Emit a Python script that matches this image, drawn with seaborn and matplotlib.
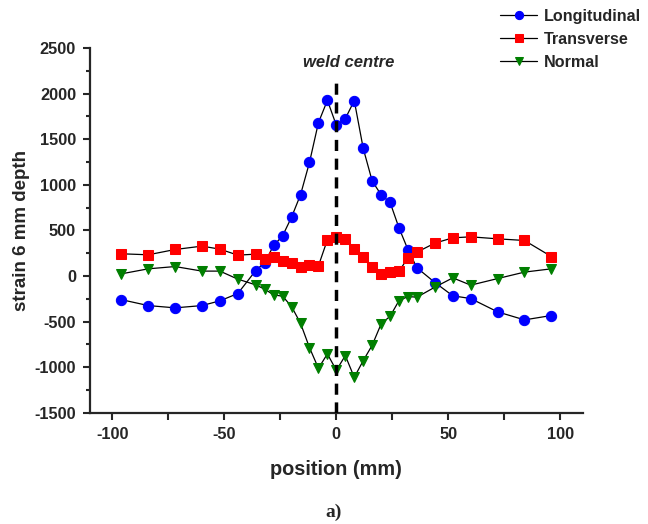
import matplotlib
matplotlib.use("Agg")
import matplotlib.pyplot as plt
import seaborn as sns
import pandas as pd
from matplotlib.ticker import MultipleLocator, FixedLocator

position = [-96, -84, -72, -60, -52, -44, -36, -32, -28, -24, -20, -16, -12, -8, -4,
            0, 4, 8, 12, 16, 20, 24, 28, 32, 36, 44, 52, 60, 72, 84, 96]
longitudinal = [-260, -325, -350, -325, -273, -193, 59, 147, 334, 440, 645, 890, 1245, 1681, 1926,
                1652, 1725, 1923, 1399, 1041, 890, 806, 525, 287, 89, -72, -218, -248, -394, -482, -434]
transverse = [243, 232, 290, 327, 294, 228, 239, 184, 210, 166, 140, 100, 122, 111, 396,
              422, 407, 294, 210, 103, 26, 42, 53, 199, 261, 360, 418, 429, 407, 389, 213]
normal = [23, 78, 103, 53, 53, -35, -98, -145, -208, -222, -336, -519, -786, -1013, -855,
          -1035, -874, -1112, -929, -760, -526, -442, -270, -226, -233, -123, -21, -101, -29, 42, 78]

series_names = ["Longitudinal", "Transverse", "Normal"]
series_colors = ["#0000ff", "#ff0000", "#007f00"]
series_markers = ["o", "s", "v"]
series_msizes = [7.4, 6.6, 7.4]

df = pd.DataFrame({"position": position, "Longitudinal": longitudinal,
                   "Transverse": transverse, "Normal": normal})

sns.set_style("ticks")
plt.rcParams["font.family"] = ["Liberation Sans", "DejaVu Sans"]
plt.rcParams["axes.unicode_minus"] = False

fig = plt.figure(figsize=(6.48, 5.24), dpi=100)
ax = fig.add_axes([90/648, 1-412.7/524, (582.7-90)/648, (412.7-48)/524])

for name, col, mk, ms in zip(series_names, series_colors, series_markers, series_msizes):
    sns.lineplot(data=df, x="position", y=name, ax=ax, sort=False, color="black",
                 lw=0.9, marker=mk, markersize=ms,
                 markerfacecolor=col, markeredgecolor=col, label=name)

ax.plot([0, 0], [-1500, 2150], color="black", lw=2.5, ls=(0, (3.2, 2.2)), zorder=5)
ax.text(5.5, 2345, "weld centre", fontsize=12, fontweight="bold", fontstyle="italic",
        ha="center", va="center")

ax.set_xlim(-110, 110)
ax.set_ylim(-1500, 2500)
ax.xaxis.set_major_locator(FixedLocator([-100, -50, 0, 50, 100]))
ax.xaxis.set_minor_locator(FixedLocator([-75, -25, 25, 75]))
ax.yaxis.set_major_locator(MultipleLocator(500))
ax.yaxis.set_minor_locator(MultipleLocator(250))
for s in ["top", "right"]:
    ax.spines[s].set_visible(False)
for s in ["left", "bottom"]:
    ax.spines[s].set_linewidth(1.6)
ax.tick_params(axis="both", which="major", direction="out", length=5, width=1.5,
               labelsize=11.8, pad=5)
ax.tick_params(axis="x", which="minor", direction="out", length=5, width=1.5)
ax.tick_params(axis="y", which="minor", direction="out", length=3, width=1.5)
for lab in ax.get_xticklabels() + ax.get_yticklabels():
    lab.set_fontweight("bold")

ax.set_xlabel("position (mm)", fontsize=14.3, fontweight="bold", labelpad=13)
ax.set_ylabel("strain 6 mm depth", fontsize=13.5, fontweight="bold", labelpad=3)

h, l = ax.get_legend_handles_labels()
ax.legend(h, l, loc="upper left", bbox_to_anchor=(500/648, 1-9/524),
          bbox_transform=fig.transFigure, frameon=False, borderpad=0, borderaxespad=0,
          prop={"weight": "bold", "size": 11.6}, handlelength=2.3,
          handletextpad=0.45, labelspacing=0.5, markerscale=0.8)

fig.text(334/648, 1-512/524, "a)", fontsize=14, fontweight="bold",
         family=["Liberation Serif", "DejaVu Serif"], ha="center", va="center")

fig.savefig("out.png", dpi=100)
